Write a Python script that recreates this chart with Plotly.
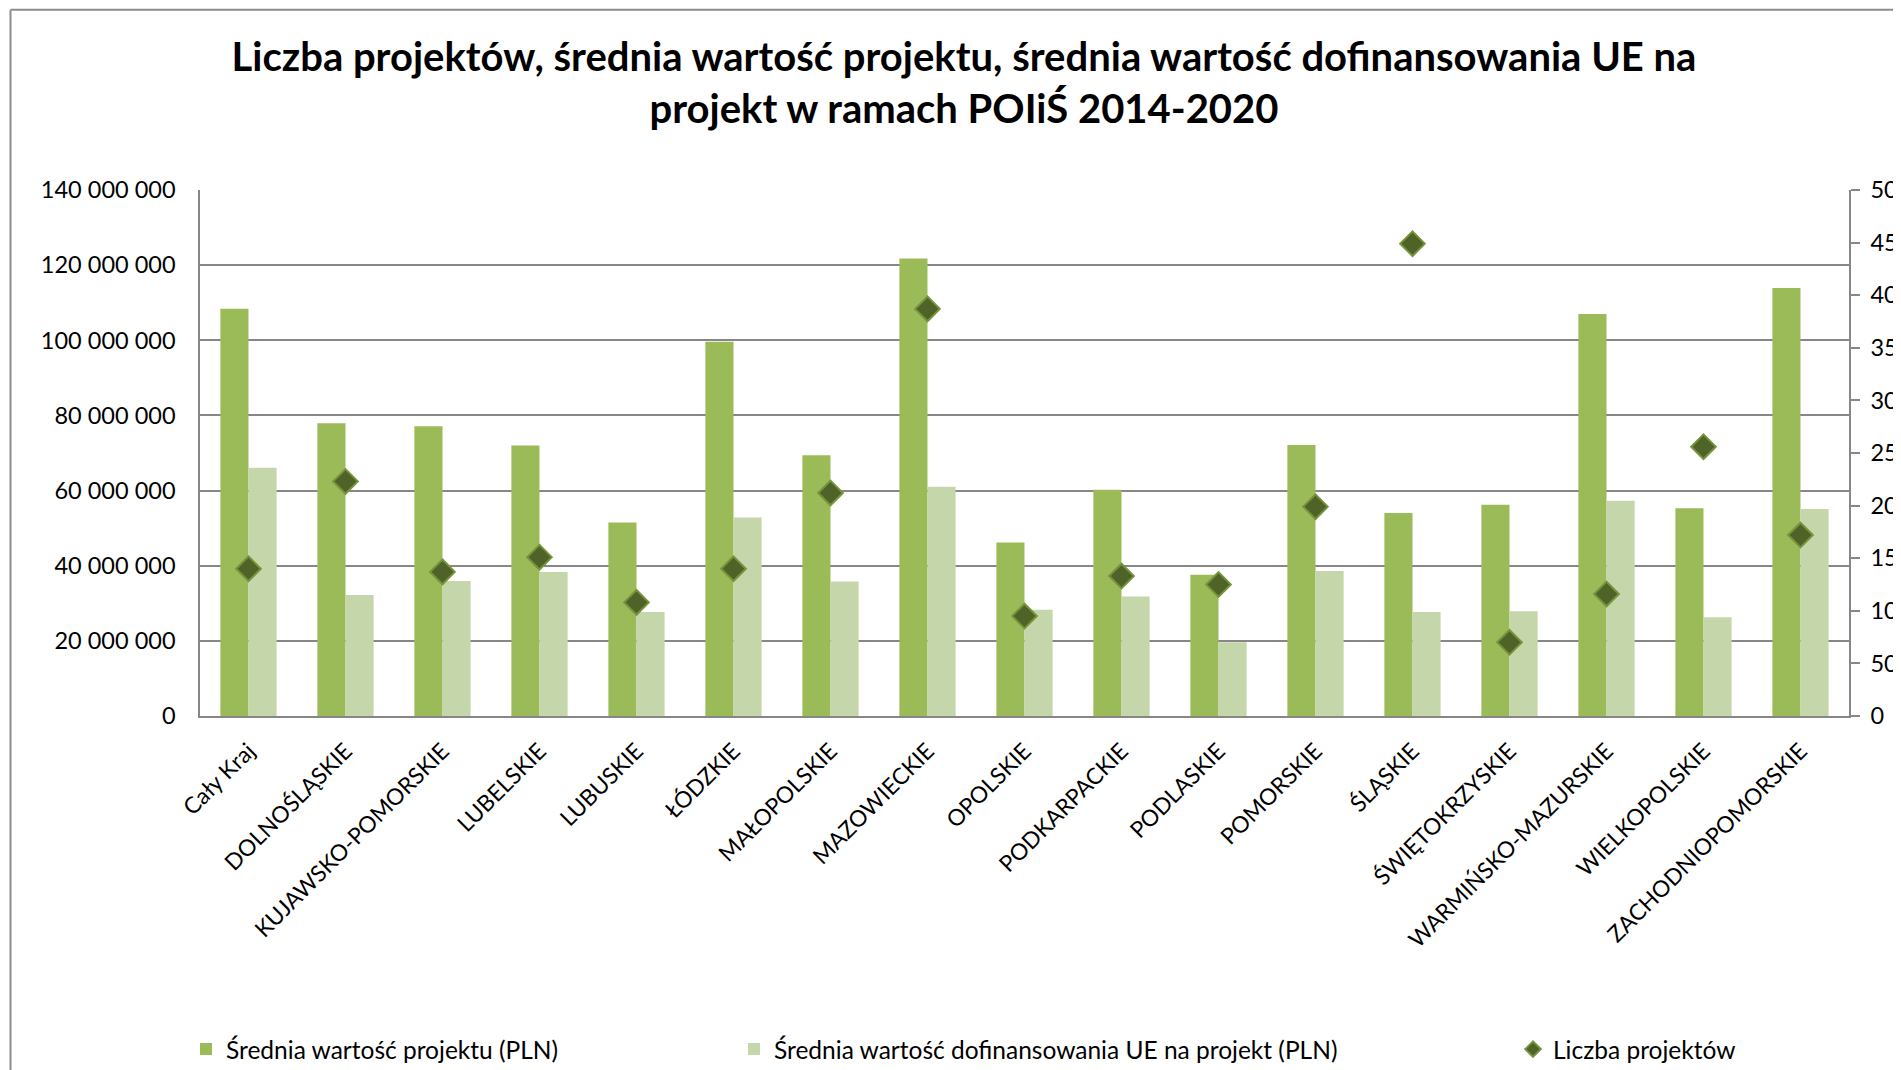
import plotly.graph_objects as go

categories = ["Cały Kraj", "DOLNOŚLĄSKIE", "KUJAWSKO-POMORSKIE", "LUBELSKIE", "LUBUSKIE",
              "ŁÓDZKIE", "MAŁOPOLSKIE", "MAZOWIECKIE", "OPOLSKIE", "PODKARPACKIE",
              "PODLASKIE", "POMORSKIE", "ŚLĄSKIE", "ŚWIĘTOKRZYSKIE", "WARMIŃSKO-MAZURSKIE",
              "WIELKOPOLSKIE", "ZACHODNIOPOMORSKIE"]
avg_project_value = [108.4e6, 77.9e6, 77.1e6, 72.0e6, 51.5e6, 99.6e6, 69.4e6, 121.8e6, 46.2e6,
                     60.2e6, 37.6e6, 72.1e6, 54.0e6, 56.2e6, 107.0e6, 55.3e6, 113.9e6]
avg_eu_funding = [66.1e6, 32.2e6, 35.9e6, 38.3e6, 27.7e6, 52.8e6, 35.8e6, 61.0e6, 28.3e6,
                  31.8e6, 19.6e6, 38.6e6, 27.7e6, 27.9e6, 57.3e6, 26.3e6, 55.1e6]
project_count = [140, 223, 137, 151, 108, 140, 212, 387, 95, 133, 125, 199, 449, 70, 116, 256, 172]

left_ticks = [0, 20e6, 40e6, 60e6, 80e6, 100e6, 120e6, 140e6]
right_ticks = [0, 50, 100, 150, 200, 250, 300, 350, 400, 450, 500]

# page is offset by the default 8px body margin
OFF = 8
W, H = 1901 - OFF, 1070 - OFF
PL, PR, PT, PB = 200 - OFF, 1849 - OFF, 190 - OFF, 716.5 - OFF  # plot area in figure px
ML, MR, MT, MB = PL, W - PR, PT, H - PB
PW, PH = PR - PL, PB - PT


def px_x(x):
    return (x - PL) / PW


def px_y(y):
    return (PB - y) / PH


FONT = "Lato"
DARK = "#9BBB59"
LIGHT = "#C6D6AB"
GRID = "#878787"

fig = go.Figure()
fig.add_trace(go.Bar(x=categories, y=avg_project_value, name="Średnia wartość projektu (PLN)",
                     marker=dict(color=DARK, line=dict(width=0)), legend="legend",
                     showlegend=True))
fig.add_trace(go.Bar(x=categories, y=avg_eu_funding,
                     name="Średnia wartość dofinansowania UE na projekt (PLN)",
                     marker=dict(color=LIGHT, line=dict(width=0)), legend="legend2",
                     showlegend=True))
fig.add_trace(go.Scatter(x=categories, y=project_count, name="Liczba projektów", mode="markers",
                         yaxis="y2",
                         marker=dict(symbol="diamond", size=19, color="#4F6228",
                                     line=dict(color="#77933C", width=2)),
                         legend="legend3", showlegend=True))

legend_common = dict(orientation="h", yanchor="middle", y=px_y(1042), xanchor="left",
                     font=dict(family=FONT, size=24.5, color="#000000"),
                     bgcolor="rgba(0,0,0,0)", itemsizing="constant", visible=True)

fig.update_layout(
    width=W, height=H,
    margin=dict(l=ML, r=MR, t=MT, b=MB, pad=0, autoexpand=False),
    paper_bgcolor="white", plot_bgcolor="white",
    showlegend=True,
    separators=", ",
    barmode="group", bargap=0.42, bargroupgap=0,
    font=dict(family=FONT, size=23, color="#000000"),
    title=dict(text="<b>Liczba projektów, średnia wartość projektu, średnia wartość dofinansowania UE na<br>projekt w ramach POIiŚ 2014-2020</b>",
               x=(964 - OFF) / W, xanchor="center", y=1 - 63 / H, yanchor="middle",
               xref="container", yref="container",
               font=dict(family=FONT, size=40, color="#000000")),
    xaxis=dict(tickangle=-45, showline=True, linecolor=GRID, linewidth=1.5, showgrid=False,
               range=[-0.5, len(categories) - 0.5], ticklabelstandoff=11,
               ticks="", tickfont=dict(family=FONT, size=22.7), automargin=False),
    yaxis=dict(range=[0, 140e6], tickvals=left_ticks, tickformat=",d", showline=True,
               linecolor=GRID, linewidth=1.5, showgrid=True, gridcolor=GRID, gridwidth=1.5,
               ticks="", ticklabelstandoff=18, zeroline=False, automargin=False,
               tickfont=dict(family=FONT, size=23.5)),
    yaxis2=dict(range=[0, 500], tickvals=right_ticks, overlaying="y", side="right",
                showline=True, linecolor=GRID, linewidth=1.5, showgrid=False, ticks="outside",
                ticklen=9, tickcolor=GRID, tickwidth=1.5, zeroline=False, automargin=False,
                ticklabelstandoff=6, tickfont=dict(family=FONT, size=23.5)),
    legend=dict(x=px_x(178), **legend_common),
    legend2=dict(x=px_x(726), **legend_common),
    legend3=dict(x=px_x(1505), **legend_common),
    shapes=[
        dict(type="line", xref="paper", yref="paper", x0=px_x(2.5), x1=px_x(W + 10),
             y0=px_y(1.5), y1=px_y(1.5), line=dict(color="#8C8C8C", width=2)),
        dict(type="line", xref="paper", yref="paper", x0=px_x(2.5), x1=px_x(2.5),
             y0=px_y(1.5), y1=px_y(H + 10), line=dict(color="#8C8C8C", width=2)),
    ],
)

fig.write_html("out.html")
